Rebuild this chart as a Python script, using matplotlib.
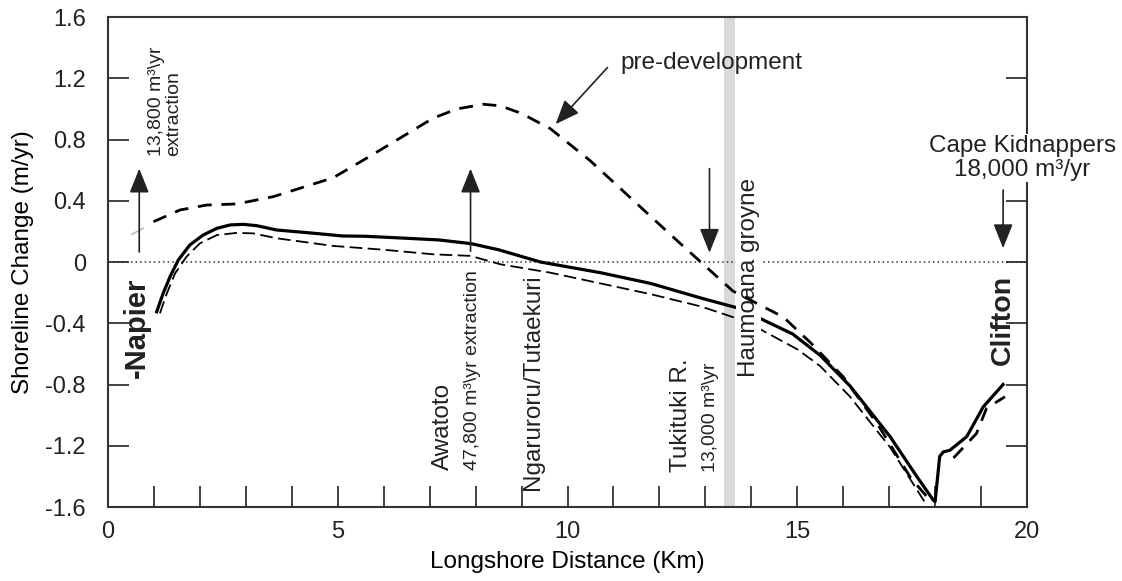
import numpy as np
import matplotlib
matplotlib.use("Agg")
import matplotlib.pyplot as plt

plt.rcParams['font.family'] = ['Liberation Sans', 'DejaVu Sans']

# present-day shoreline change (solid)
present_km = [1.06, 1.2, 1.35, 1.53, 1.78, 2.07, 2.37, 2.66, 2.94, 3.24, 3.67, 4.4, 5.1,
              5.6, 6.5, 7.2, 7.9, 8.5, 9.41, 10.72, 11.81, 12.9, 13.7, 14.2, 14.9, 15.5,
              16.15, 17.02, 17.6, 17.96, 18.0, 18.1, 18.18, 18.32, 18.69, 19.05, 19.48]
present = [-0.325, -0.205, -0.096, 0.013, 0.111, 0.176, 0.22, 0.242, 0.246, 0.237, 0.209,
           0.19, 0.17, 0.168, 0.155, 0.144, 0.12, 0.08, 0.0, -0.07, -0.14, -0.235, -0.30,
           -0.37, -0.47, -0.61, -0.81, -1.14, -1.40, -1.555, -1.566, -1.27, -1.24, -1.23,
           -1.14, -0.945, -0.80]

# second scenario (thin dashed)
thin_km = [1.13, 1.28, 1.46, 1.71, 2.0, 2.37, 2.8, 3.16, 3.67, 4.9, 6.0, 7.08, 7.89, 8.54,
           9.63, 10.72, 11.81, 12.9, 13.7, 14.2, 15.0, 15.5, 16.15, 17.02, 17.8]
thin = [-0.335, -0.205, -0.074, 0.035, 0.122, 0.176, 0.19, 0.187, 0.155, 0.105, 0.08,
        0.05, 0.04, -0.015, -0.07, -0.14, -0.21, -0.29, -0.37, -0.44, -0.57, -0.68,
        -0.88, -1.21, -1.58]

# pre-development (thick dashed)
pre_km = [0.99, 1.57, 2.15, 2.8, 3.6, 4.9, 5.64, 6.36, 7.08, 7.6, 8.17, 8.54, 9.0, 9.63,
          10.5, 11.44, 12.31, 12.9, 13.6, 14.7, 15.3, 16.0, 16.75, 17.47, 17.9,
          np.nan, 18.4, 18.9, 19.12, 19.52]
pre = [0.263, 0.34, 0.372, 0.379, 0.427, 0.55, 0.68, 0.81, 0.94, 1.0, 1.03, 1.02, 0.97,
       0.87, 0.66, 0.40, 0.16, 0.0, -0.19, -0.36, -0.53, -0.75, -1.06, -1.41, -1.56,
       np.nan, -1.28, -1.12, -0.955, -0.88]

faint_km = [0.52, 0.76]
faint = [0.18, 0.22]

fig = plt.figure(figsize=(11.22, 5.81), dpi=100)
ax = fig.add_axes([108/1122, 1-507/581, (1027-108)/1122, (507-17)/581])

ax.axvspan(13.4, 13.64, color='#d9d9d9', lw=0, zorder=1)
ax.axhline(0, color='#333333', lw=1.1, ls=(0, (1, 2)), zorder=1.5)

ax.plot(present_km, present, color='k', lw=2.3, zorder=2)
ax.plot(thin_km, thin, color='k', lw=1.3, ls=(0, (7, 3)), zorder=2)
ax.plot(faint_km, faint, color='#bbbbbb', lw=1.2, zorder=2)
ax.plot(pre_km, pre, color='k', lw=2.0, ls=(0, (5, 3.5)), zorder=4)

ax.set_xlim(0, 20)
ax.set_ylim(-1.6, 1.6)
ax.set_xticks([0, 5, 10, 15, 20])
ax.set_xticks(np.arange(1, 20), minor=True)
ax.set_yticks(np.arange(-1.6, 1.61, 0.4))
ax.set_yticklabels(['-1.6', '-1.2', '-0.8', '-0.4', '0', '0.4', '0.8', '1.2', '1.6'])
ax.tick_params(axis='x', which='both', direction='in', length=15, width=1.2,
               labelsize=17, pad=10, colors='#222222')
ax.tick_params(axis='y', which='both', direction='in', length=15, width=1.2,
               labelsize=17, right=True, pad=16, colors='#222222')
for s in ax.spines.values():
    s.set_linewidth(1.5)
    s.set_color('#333333')
    s.set_zorder(2.5)

ax.set_xlabel('Longshore Distance (Km)', fontsize=17.5, labelpad=6)
ax.set_ylabel('Shoreline Change (m/yr)', fontsize=17.5, labelpad=8)

def arrow(x, y0, y1):
    ax.annotate('', xy=(x, y1), xytext=(x, y0),
                arrowprops=dict(arrowstyle='-|>,head_width=0.4,head_length=1.0',
                                color='#222222', lw=1.2, mutation_scale=15,
                                shrinkA=0, shrinkB=0), zorder=5)

arrow(0.68, 0.065, 0.61)
arrow(7.89, 0.07, 0.61)
arrow(13.09, 0.61, 0.06)
arrow(19.48, 0.47, 0.09)
ax.annotate('', xy=(9.74, 0.90), xytext=(10.87, 1.27),
            arrowprops=dict(arrowstyle='-|>,head_width=0.4,head_length=1.0',
                            color='#222222', lw=1.2, mutation_scale=15,
                            shrinkA=0, shrinkB=0), zorder=5)

tc = '#222222'
ax.text(1.24, 0.69, '13,800 m³\\yr\nextraction', rotation=90, ha='center', va='bottom',
        fontsize=14, color=tc, multialignment='left', linespacing=1.0)
ax.text(0.63, -0.76, '-Napier', rotation=90, ha='center', va='bottom',
        fontsize=21, fontweight='bold', color=tc)
ax.text(7.3, -1.36, 'Awatoto', rotation=90, ha='center', va='bottom', fontsize=17.5, color=tc)
ax.text(7.93, -1.36, '47,800 m³\\yr extraction', rotation=90, ha='center', va='bottom',
        fontsize=14, color=tc)
ax.text(9.24, -1.49, 'Ngaruroru/Tutaekuri', rotation=90, ha='center', va='bottom',
        fontsize=17.5, color=tc)
ax.text(12.46, -1.37, 'Tukituki R.', rotation=90, ha='center', va='bottom',
        fontsize=17.5, color=tc)
ax.text(13.12, -1.37, '13,000 m³\\yr', rotation=90, ha='center', va='bottom',
        fontsize=14, color=tc)
ax.text(13.94, -0.75, 'Haumoana groyne', rotation=90, ha='center', va='bottom',
        fontsize=17.5, color=tc, zorder=3,
        bbox=dict(facecolor='white', edgecolor='none', pad=1))
ax.text(11.15, 1.30, 'pre-development', ha='left', va='center', fontsize=17.5, color=tc)
ax.text(19.9, 0.68, 'Cape Kidnappers\n18,000 m³/yr', ha='center', va='center',
        fontsize=17.5, color=tc, multialignment='center', linespacing=1.1, zorder=6,
        bbox=dict(facecolor='white', edgecolor='none', pad=1))
ax.text(19.48, -0.67, 'Clifton', rotation=90, ha='center', va='bottom',
        fontsize=20.5, fontweight='bold', color=tc)

fig.savefig('out.png', dpi=100)
